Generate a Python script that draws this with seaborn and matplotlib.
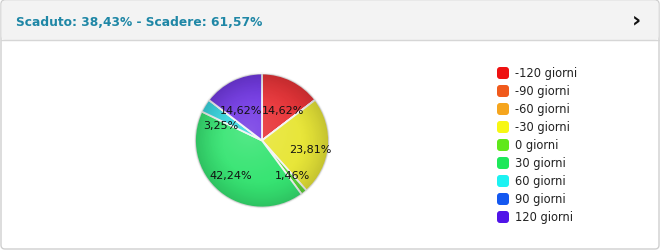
import matplotlib
matplotlib.use("Agg")
import matplotlib.pyplot as plt
import seaborn as sns
import numpy as np
from matplotlib.patches import FancyBboxPatch, Circle

sns.set_theme(style="white")
plt.rcParams['font.family'] = ['DejaVu Sans']

title = "Scaduto: 38,43% - Scadere: 61,57%"
categories = ["-120 giorni", "-90 giorni", "-60 giorni", "-30 giorni", "0 giorni",
              "30 giorni", "60 giorni", "90 giorni", "120 giorni"]
values = [14.62, 0.0, 0.0, 23.81, 1.46, 42.24, 3.25, 0.0, 14.62]
legend_colors = ["#ee1111", "#f05a1c", "#f5a51e", "#f7f714", "#5fe81a",
                 "#1ee85a", "#1cf2f2", "#1458f0", "#5014e8"]
pie_colors = ["#e83438", "#f06a30", "#f5b03a", "#e8e638", "#5ed83a",
              "#36e472", "#36d6e0", "#3a6ae8", "#7238e4"]

W, H = 660, 251
fig = plt.figure(figsize=(W / 100, H / 100), dpi=100)
fig.patch.set_facecolor("white")

def fx(px):
    return px / W

def fy(py):
    return 1 - py / H

# outer frame and header
bg = fig.add_axes([0, 0, 1, 1])
bg.set_xlim(0, W)
bg.set_ylim(H, 0)
bg.axis("off")
bg.add_patch(FancyBboxPatch((1, 1), W - 2, H - 2, boxstyle="round,pad=0,rounding_size=4",
                            facecolor="white", edgecolor="#cfcfcf", lw=1))
bg.add_patch(FancyBboxPatch((1.5, 1.5), W - 3, 39.5, boxstyle="round,pad=0,rounding_size=4",
                            facecolor="#f3f3f3", edgecolor="none"))
bg.plot([1, W - 1], [41, 41], color="#d6d6d6", lw=1)
bg.text(16, 22, title, color="#1f87a6", fontsize=8.8, fontweight="bold", va="center", ha="left")
bg.text(636, 20, "\u203a", color="#111111", fontsize=16, fontweight="bold", va="center", ha="center")

# legend
y0, dy = 74, 18
for i, (lab, col) in enumerate(zip(categories, legend_colors)):
    yc = y0 + i * dy
    bg.add_patch(FancyBboxPatch((497, yc - 6), 12, 12, boxstyle="round,pad=0,rounding_size=3",
                                facecolor=col, edgecolor="none"))
    bg.text(515, yc, lab, fontsize=8.3, color="#222222", va="center", ha="left")

# pie
cx, cy, r = 262, 141.5, 67
ax = fig.add_axes([fx(cx - r), fy(cy + r), fx(2 * r), (2 * r) / H])
labels = [f"{v:.2f}%".replace(".", ",") if v > 0 else "" for v in values]
wedges, texts = ax.pie(values, colors=pie_colors, startangle=90, counterclock=False,
                       radius=1, labels=labels, labeldistance=0.6,
                       wedgeprops=dict(edgecolor="#f4f4f4", linewidth=1.3),
                       textprops=dict(fontsize=8, color="#111111"))
# subtle radial shading (light highlight + darker rim)
n = 300
xx, yy = np.meshgrid(np.linspace(-1, 1, n), np.linspace(-1, 1, n))
rr = np.sqrt((xx + 0.2) ** 2 + (yy - 0.15) ** 2)
light = np.clip(1 - rr / 1.0, 0, 1) ** 1.5
dark = np.clip((np.sqrt(xx ** 2 + yy ** 2) - 0.55) / 0.45, 0, 1) ** 1.5
hi = np.ones((n, n, 4))
hi[..., 3] = 0.16 * light
lo = np.zeros((n, n, 4))
lo[..., 3] = 0.16 * dark
for layer in (hi, lo):
    im = ax.imshow(layer, extent=(-1, 1, -1, 1), origin="lower", zorder=2,
                   interpolation="bilinear")
    im.set_clip_path(Circle((0, 0), 1, transform=ax.transData))
for w, t in zip(wedges, texts):
    th = np.deg2rad((w.theta1 + w.theta2) / 2)
    t.set_position((0.72 * np.cos(th), 0.58 * np.sin(th) - 0.065))
    t.set_ha("center")
    t.set_va("center")
    t.set_zorder(3)
ax.set_xlim(-1, 1)
ax.set_ylim(-1, 1)
ax.set_aspect("equal")
ax.axis("off")

fig.savefig("out.png", dpi=100, facecolor="white")
